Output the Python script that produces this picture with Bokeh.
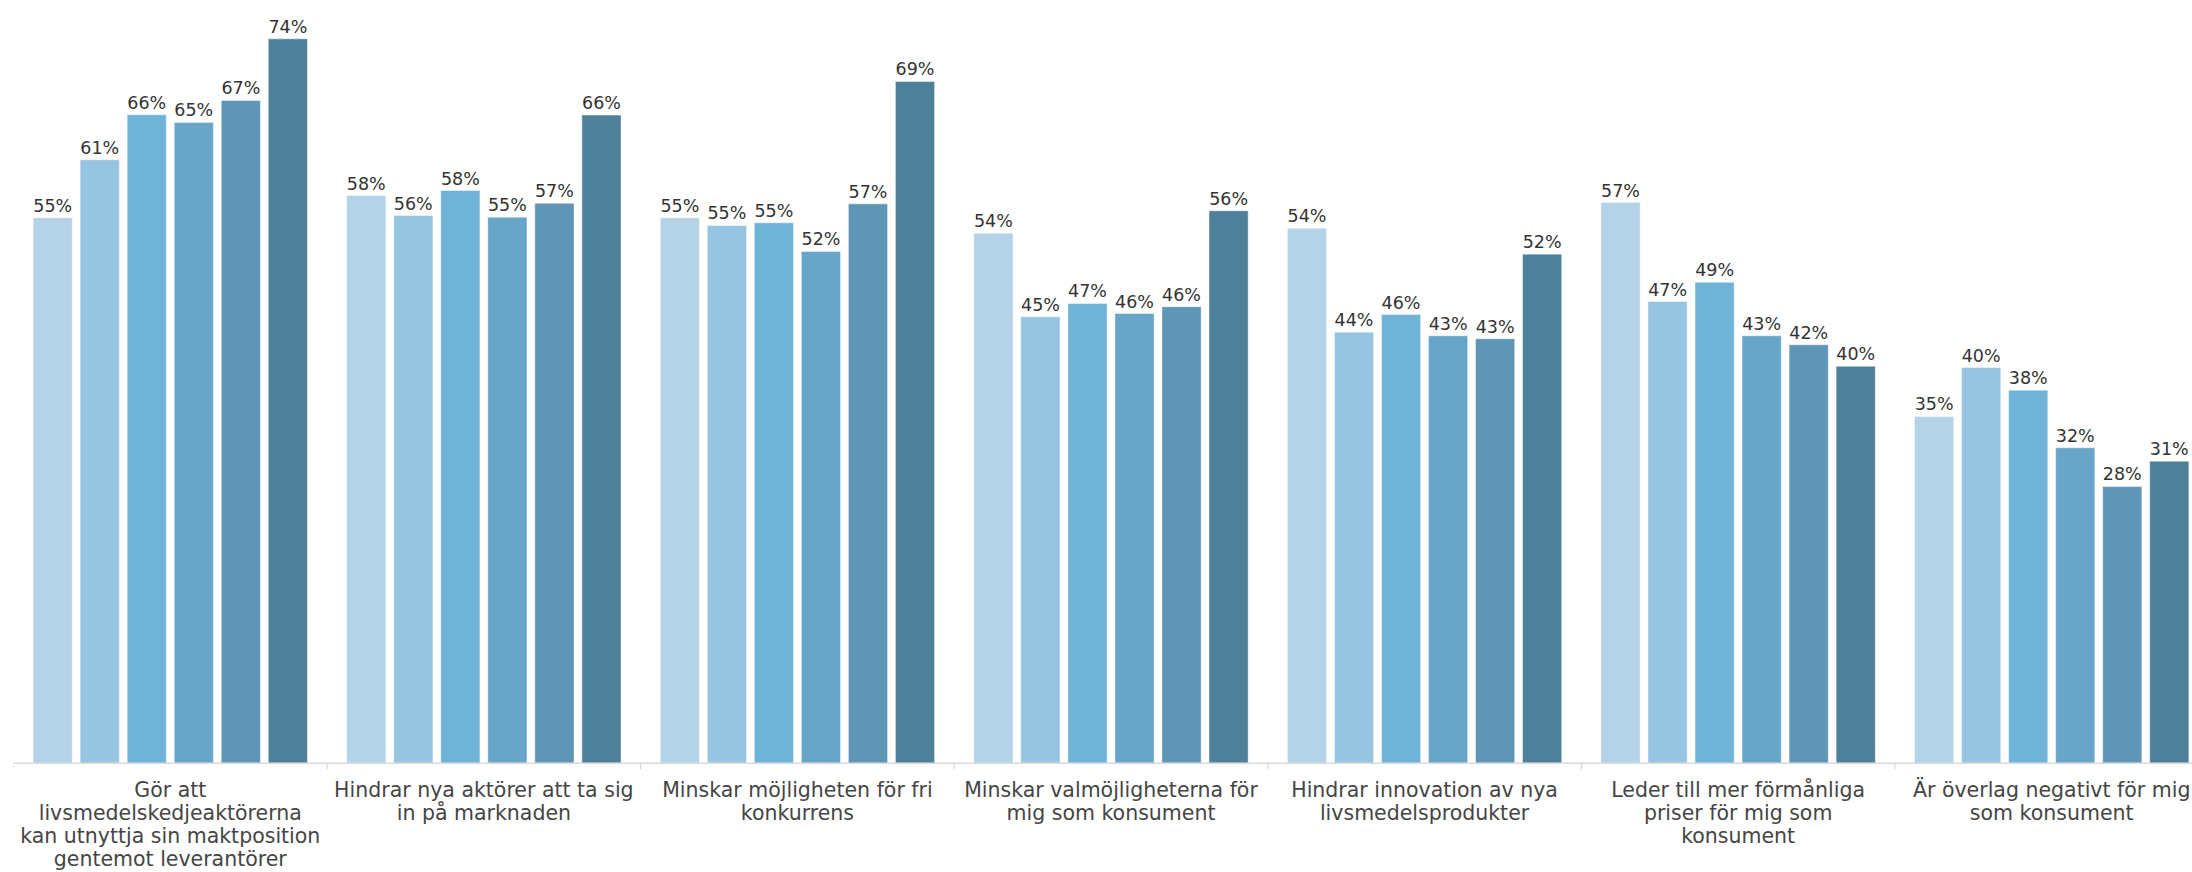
from bokeh.plotting import figure
from bokeh.models import ColumnDataSource, Range1d, Span
from bokeh.transform import dodge
from bokeh.core.properties import value
from bokeh.embed import file_html
from bokeh.resources import INLINE

categories = [
    "Gör att\nlivsmedelskedjeaktörerna\nkan utnyttja sin maktposition\ngentemot leverantörer",
    "Hindrar nya aktörer att ta sig\nin på marknaden",
    "Minskar möjligheten för fri\nkonkurrens",
    "Minskar valmöjligheterna för\nmig som konsument",
    "Hindrar innovation av nya\nlivsmedelsprodukter",
    "Leder till mer förmånliga\npriser för mig som\nkonsument",
    "Är överlag negativt för mig\nsom konsument",
]

# values (%); labels show the rounded value
series_1 = [55.37, 57.62, 55.37, 53.81, 54.31, 56.92, 35.20]
series_2 = [61.26, 55.60, 54.59, 45.32, 43.76, 46.87, 40.17]
series_3 = [65.83, 58.14, 54.86, 46.67, 45.55, 48.83, 37.87]
series_4 = [65.05, 55.43, 51.95, 45.65, 43.39, 43.39, 32.02]
series_5 = [67.28, 56.85, 56.79, 46.34, 43.09, 42.48, 28.09]
series_6 = [73.54, 65.80, 69.21, 56.08, 51.68, 40.30, 30.66]

series = [series_1, series_2, series_3, series_4, series_5, series_6]
colors = ["#b4d3e8", "#97c4e1", "#70b3d9", "#67a6c9", "#5f96b5", "#4f8099"]

n = len(categories)
centers = [i + 0.5 for i in range(n)]
boundaries = [float(i) for i in range(n + 1)]

p = figure(width=2192, height=872, output_backend="svg", toolbar_location=None,
           x_range=Range1d(0, 6.949), y_range=Range1d(-11.10, 77.43),
           min_border_left=13, min_border_right=0, min_border_top=0, min_border_bottom=0)
p.outline_line_color = None
p.xgrid.visible = False
p.ygrid.visible = False
p.xaxis.visible = False
p.yaxis.visible = False
p.background_fill_color = "white"
p.border_fill_color = "white"

bar_w = 0.125
pitch = 0.15
for k, (vals, col) in enumerate(zip(series, colors)):
    off = (k - 2.5) * pitch
    src = ColumnDataSource(dict(x=centers, v=vals, label=[f"{round(v)}%" for v in vals]))
    p.vbar(x=dodge("x", off), top="v", bottom=0, width=bar_w, source=src,
           fill_color=col, line_color="white", line_alpha=0.45, line_width=1)
    p.text(x=dodge("x", off), y="v", text="label", source=src, y_offset=-12,
           text_align="center", text_baseline="alphabetic",
           text_font=value("DejaVu Sans"), text_font_size="17.5px", text_color="#333333")

# category axis: baseline, group separator ticks and labels
p.add_layout(Span(location=0, dimension="width", line_color="#d9d9d9", line_width=1.5))
tick_src = ColumnDataSource(dict(x=boundaries, y0=[0.0] * len(boundaries), y1=[-0.62] * len(boundaries)))
p.segment(x0="x", y0="y0", x1="x", y1="y1", source=tick_src, line_color="#d9d9d9", line_width=1.2)

cat_src = ColumnDataSource(dict(x=centers, y=[0.0] * n, label=categories))
p.text(x="x", y="y", text="label", source=cat_src, y_offset=15,
       text_align="center", text_baseline="top", text_line_height=0.95,
       text_font=value("DejaVu Sans"), text_font_size="20.5px", text_color="#454545")

open("out.html", "w").write(file_html(p, INLINE))
